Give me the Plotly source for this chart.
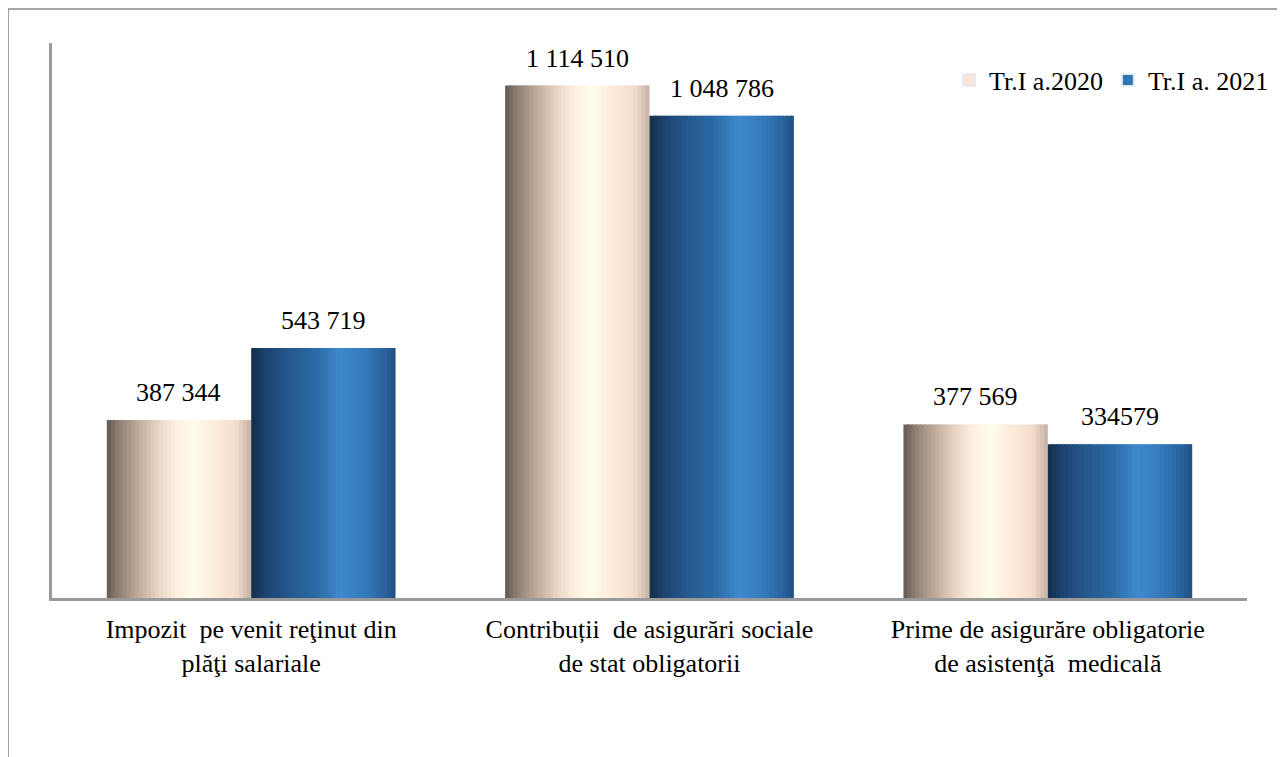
import plotly.graph_objects as go

# ---- data ----
categories = [
    "Impozit  pe venit reţinut din<br>plăţi salariale",
    "Contribuții  de asigurări sociale<br>de stat obligatorii",
    "Prime de asigurăre obligatorie<br>de asistenţă  medicală",
]
series_names = ["Tr.I a.2020", "Tr.I a. 2021"]
values_2020 = [387344, 1114510, 377569]
values_2021 = [543719, 1048786, 334579]
labels_2020 = ["387 344", "1 114 510", "377 569"]
labels_2021 = ["543 719", "1 048 786", "334579"]

# ---- style ----
FONT = "Liberation Serif, Times New Roman, serif"
BAR_W = 0.3625          # width of one bar in category units
N_SLICES = 36

stops_2020 = [(0.0, "#655952"), (0.08, "#8C7E74"), (0.2, "#B9A596"), (0.35, "#E6D3C4"),
              (0.47, "#FDEEDF"), (0.6, "#FFFCEA"), (0.75, "#FEEBDD"), (0.9, "#F2DBCC"),
              (1.0, "#C6B0A1")]
stops_2021 = [(0.0, "#142E49"), (0.1, "#1C4370"), (0.25, "#25578A"), (0.45, "#2C6AA6"),
              (0.62, "#3D89CD"), (0.8, "#3479BA"), (0.93, "#28619B"), (1.0, "#1F5080")]


def hex2rgb(h):
    h = h.lstrip("#")
    return tuple(int(h[i:i + 2], 16) for i in (0, 2, 4))


def interp(stops, t):
    for (p0, c0), (p1, c1) in zip(stops, stops[1:]):
        if p0 <= t <= p1:
            f = (t - p0) / (p1 - p0) if p1 > p0 else 0
            a, b = hex2rgb(c0), hex2rgb(c1)
            return "rgb(%d,%d,%d)" % tuple(round(a[i] + (b[i] - a[i]) * f) for i in range(3))
    return stops[-1][1]


x_pos = list(range(len(categories)))
fig = go.Figure()

step = BAR_W / N_SLICES
for vals, stops, base_off in ((values_2020, stops_2020, -BAR_W), (values_2021, stops_2021, 0.0)):
    for i in range(N_SLICES):
        t = (i + 0.5) / N_SLICES
        w = step * 1.6 if i < N_SLICES - 1 else step
        fig.add_trace(go.Bar(
            x=x_pos, y=vals, width=[w] * len(x_pos), offset=[base_off + i * step] * len(x_pos),
            marker=dict(color=interp(stops, t), line=dict(width=0)),
            showlegend=False, hoverinfo="skip",
        ))

# legend-only entries
fig.add_trace(go.Bar(x=[None], y=[None], name=series_names[0], marker_color="#FBE5D6"))
fig.add_trace(go.Bar(x=[None], y=[None], name=series_names[1], marker_color="#2E75B6"))

# data labels
for vals, labs, dx in ((values_2020, labels_2020, -BAR_W / 2), (values_2021, labels_2021, BAR_W / 2)):
    for xi, v, lab in zip(x_pos, vals, labs):
        fig.add_annotation(x=xi + dx, y=v, text=lab, showarrow=False, yanchor="bottom",
                           yshift=11, font=dict(family=FONT, size=26, color="#000000"))

# outer frame (left + top edges)
fig.add_shape(type="line", xref="paper", yref="paper", x0=-0.0368, x1=-0.0368, y0=-0.3, y1=1.0613,
              line=dict(color="#8a8a8a", width=1.5))
fig.add_shape(type="line", xref="paper", yref="paper", x0=-0.0368, x1=1.04, y0=1.0613, y1=1.0613,
              line=dict(color="#8a8a8a", width=1.5))

fig.update_layout(
    width=1277, height=749,
    margin=dict(l=44, r=37, t=35, b=159),
    paper_bgcolor="white", plot_bgcolor="white",
    barmode="overlay",
    font=dict(family=FONT, size=26, color="#000000"),
    showlegend=True,
    legend=dict(orientation="h", x=0.750, xanchor="left", y=0.933, yanchor="middle",
                font=dict(family=FONT, size=26), bgcolor="rgba(0,0,0,0)",
                itemsizing="constant", traceorder="normal"),
    xaxis=dict(range=[-0.5, 2.5], tickmode="array", tickvals=x_pos, ticktext=categories,
               showline=True, linecolor="#9a9a9a", linewidth=2.5, showgrid=False,
               zeroline=False, ticks="", ticklabelstandoff=6,
               tickfont=dict(family=FONT, size=26)),
    yaxis=dict(range=[0, 1207000], showline=True, linecolor="#9a9a9a", linewidth=2.5,
               showgrid=False, zeroline=False, showticklabels=False, ticks=""),
)

fig.write_html("out.html")
